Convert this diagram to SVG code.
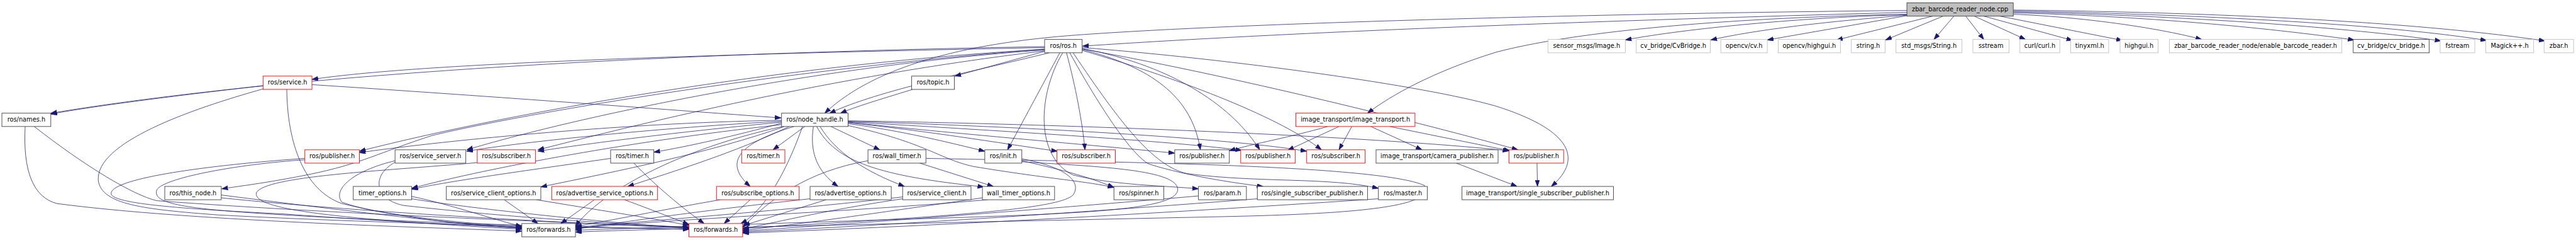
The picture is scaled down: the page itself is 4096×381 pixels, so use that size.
<svg xmlns="http://www.w3.org/2000/svg" width="4096" height="381" viewBox="0 0 4096 381">
<defs>
<marker id="a" markerUnits="userSpaceOnUse" markerWidth="14" markerHeight="10" refX="13" refY="4.5" orient="auto"><path d="M0,0 L13,4.5 L0,9 Z" fill="#191970" stroke="#191970" stroke-width="1"/></marker>
<style>
.e{fill:none;stroke:#191970;stroke-width:1;marker-end:url(#a)}
.n rect{fill:#ffffff;stroke-width:1.2}
.blk rect{stroke:#404040}
.red rect{stroke:#ff0000}
.gry rect{stroke:#bfbfbf}
.root rect{fill:#bfbfbf;stroke:#404040}
.n text{font-family:"DejaVu Sans",sans-serif;font-size:13px;text-anchor:middle;fill:#000000}
</style>
</defs>
<rect x="0" y="0" width="4096" height="381" fill="#ffffff"/>
<g transform="scale(0.755)">
<g id="edges">
<path class="e" d="M4016,26 C3500,40 2800,62 2280,97"/>
<path class="e" d="M4016,22 C3400,28 2600,48 2250,75 C2000,95 1830,150 1737,238"/>
<path class="e" d="M4016,30 C3600,38 3300,70 3150,110 C3020,150 2930,200 2880,238"/>
<path class="e" d="M4016,31 C3800,36 3550,60 3423,84"/>
<path class="e" d="M4016,32 C3850,45 3700,62 3603,84"/>
<path class="e" d="M4016,33 L3722,84"/>
<path class="e" d="M4070,34 L3868,84"/>
<path class="e" d="M4092,34 L3971,84"/>
<path class="e" d="M4115,34 L4073,83"/>
<path class="e" d="M4140,34 L4178,83"/>
<path class="e" d="M4158,34 L4266,83"/>
<path class="e" d="M4178,34 L4365,85"/>
<path class="e" d="M4212,34 L4470,85"/>
<path class="e" d="M4240,30 C4400,36 4560,62 4637,83"/>
<path class="e" d="M4240,27 C4550,35 4800,62 4958,84"/>
<path class="e" d="M4240,25 C4600,33 4950,58 5141,86"/>
<path class="e" d="M4240,23 C4700,32 5050,55 5237,85"/>
<path class="e" d="M4240,21 C4800,28 5150,55 5360,86"/>
<path class="e" d="M2200,98 C1600,108 700,140 107,238"/>
<path class="e" d="M2200,100 C1600,112 900,130 657,167"/>
<path class="e" d="M2210,111 C2050,150 1850,190 1747,238"/>
<path class="e" d="M2200,108 L2011,160"/>
<path class="e" d="M2232,111 L2122,315"/>
<path class="e" d="M2246,111 C2265,180 2280,260 2285,315"/>
<path class="e" d="M2279,104 C2420,140 2510,200 2528,315"/>
<path class="e" d="M2279,102 C2480,140 2600,230 2653,315"/>
<path class="e" d="M2253,111 C2330,250 2390,330 2420,345 C2500,370 2600,385 2660,392"/>
<path class="e" d="M2260,111 C2360,260 2430,350 2500,365 C2650,385 2800,372 2903,396"/>
<path class="e" d="M2238,111 C2185,200 2180,330 2260,368 C2350,390 2450,390 2524,397"/>
<path class="e" d="M2279,106 C2500,170 2700,250 2783,315"/>
<path class="e" d="M2279,100 C2600,125 3000,180 3150,223 C3300,270 3340,330 3267,392"/>
<path class="e" d="M2279,103 C2600,160 3000,260 3197,315"/>
<path class="e" d="M2200,104 C1700,130 1100,230 757,318"/>
<path class="e" d="M2200,105 C1700,140 1200,250 983,315"/>
<path class="e" d="M2200,107 C1750,160 1350,260 1133,315"/>
<path class="e" d="M2200,103 C1600,150 1050,250 910,285 C800,320 760,345 650,367 C560,385 500,392 467,397"/>
<path class="e" d="M554,180 C400,198 200,222 107,240"/>
<path class="e" d="M657,178 C1000,200 1400,230 1645,248"/>
<path class="e" d="M604,188 C605,300 640,400 720,428 C850,460 1000,475 1099,480"/>
<path class="e" d="M554,187 C400,230 200,300 207,380 C215,430 300,440 460,452 C800,470 1200,478 1451,482"/>
<path class="e" d="M1922,188 C1850,210 1800,225 1770,238"/>
<path class="e" d="M1695,266 L1628,315"/>
<path class="e" d="M1672,266 C1560,300 1520,340 1580,392"/>
<path class="e" d="M1713,266 C1705,320 1720,360 1765,392"/>
<path class="e" d="M1750,266 L1853,315"/>
<path class="e" d="M1786,260 C1900,275 2000,300 2074,318"/>
<path class="e" d="M1786,258 C1950,275 2100,300 2227,318"/>
<path class="e" d="M1786,257 C2000,280 2300,305 2474,322"/>
<path class="e" d="M1786,256 C2100,275 2450,295 2615,316"/>
<path class="e" d="M1786,255 C2200,268 2600,292 2752,318"/>
<path class="e" d="M1786,254 C2300,262 2900,288 3178,317"/>
<path class="e" d="M1727,266 C1760,320 1820,360 1905,392"/>
<path class="e" d="M1720,266 C1760,340 1850,370 2072,393"/>
<path class="e" d="M1786,264 C1950,300 1980,335 2050,350 C2200,375 2280,380 2346,394"/>
<path class="e" d="M1646,262 C1300,300 1000,360 867,396"/>
<path class="e" d="M1646,259 C1550,285 1450,308 1377,320"/>
<path class="e" d="M1652,266 C1500,320 1300,360 1139,393"/>
<path class="e" d="M1662,266 C1550,320 1420,360 1322,392"/>
<path class="e" d="M1646,255 C1400,268 1100,298 983,318"/>
<path class="e" d="M1646,257 C1450,275 1250,300 1133,318"/>
<path class="e" d="M1646,253 C1300,258 900,300 757,321"/>
<path class="e" d="M1648,266 C1400,320 1250,420 1212,476"/>
<path class="e" d="M1690,266 C1650,380 1600,450 1560,470"/>
<path class="e" d="M2796,266 C2720,288 2640,302 2589,317"/>
<path class="e" d="M2820,266 L2712,316"/>
<path class="e" d="M2847,266 L2820,315"/>
<path class="e" d="M2887,266 L2995,315"/>
<path class="e" d="M2927,266 C3020,285 3120,305 3180,317"/>
<path class="e" d="M3067,343 L3195,392"/>
<path class="e" d="M3237,343 L3238,392"/>
<path class="e" d="M1286,333 C1100,360 950,380 867,398"/>
<path class="e" d="M1335,343 C1380,390 1440,440 1483,470"/>
<path class="e" d="M1937,343 L2092,392"/>
<path class="e" d="M1828,338 C1700,360 1620,420 1564,478"/>
<path class="e" d="M1950,333 C2300,340 2900,345 3000,390 C3030,440 2800,450 2600,455 C2000,468 1400,480 1212,488"/>
<path class="e" d="M2152,338 C2250,360 2300,375 2346,394"/>
<path class="e" d="M2152,340 C2300,350 2470,355 2480,395 C2490,440 2300,448 2000,458 C1600,470 1350,480 1212,484"/>
<path class="e" d="M2152,334 C2240,350 2280,380 2260,410 C2230,440 2000,455 1564,480"/>
<path class="e" d="M1901,418 C1750,440 1620,470 1564,482"/>
<path class="e" d="M1901,414 C1700,438 1400,462 1212,478"/>
<path class="e" d="M1062,420 L1133,470"/>
<path class="e" d="M1130,420 C1250,440 1380,460 1451,474"/>
<path class="e" d="M1252,420 L1181,470"/>
<path class="e" d="M1315,420 C1370,440 1420,460 1451,472"/>
<path class="e" d="M1580,420 L1525,470"/>
<path class="e" d="M1517,420 C1400,440 1280,465 1212,476"/>
<path class="e" d="M1740,420 L1566,474"/>
<path class="e" d="M1706,418 C1500,440 1300,468 1212,482"/>
<path class="e" d="M2069,416 C1900,440 1700,470 1564,484"/>
<path class="e" d="M2080,420 C1800,445 1500,455 1212,480"/>
<path class="e" d="M2524,412 C2200,440 1800,470 1564,486"/>
<path class="e" d="M2648,418 C2300,445 1900,472 1564,488"/>
<path class="e" d="M2903,418 C2500,445 2000,474 1564,490"/>
<path class="e" d="M466,410 C700,440 950,470 1099,480"/>
<path class="e" d="M466,416 C800,450 1200,468 1451,480"/>
<path class="e" d="M53,266 C48,360 70,415 120,428 C400,465 900,478 1099,486"/>
<path class="e" d="M72,266 C180,350 280,410 330,422 C700,450 1200,468 1451,478"/>
<path class="e" d="M642,333 C400,350 220,380 235,410 C250,430 400,440 600,450 C800,465 1000,475 1099,478"/>
<path class="e" d="M642,336 C500,345 340,375 330,400 C320,430 400,440 600,452 C900,470 1250,478 1451,482"/>
<path class="e" d="M832,338 C740,360 700,400 720,425 C800,455 1000,470 1099,478"/>
<path class="e" d="M832,341 C780,370 790,420 850,432 C1100,460 1300,470 1451,478"/>
<path class="e" d="M1005,342 C800,360 560,370 540,405 C530,440 700,460 1099,482"/>
<path class="e" d="M867,413 C950,430 1050,465 1099,476"/>
<path class="e" d="M867,418 C1000,440 1300,470 1451,480"/>
</g>
<g id="root" class="n root"><rect x="4016" y="6" width="224" height="28"/><text x="4128" y="24">zbar_barcode_reader_node.cpp</text></g>
<g id="n_ros" class="n blk"><rect x="2200" y="83" width="79" height="28"/><text x="2239.5" y="101">ros/ros.h</text></g>
<g id="n_image" class="n gry"><rect x="3260" y="83" width="163" height="28"/><text x="3341.5" y="101">sensor_msgs/Image.h</text></g>
<g id="n_cvbridge1" class="n gry"><rect x="3446" y="83" width="156" height="28"/><text x="3524" y="101">cv_bridge/CvBridge.h</text></g>
<g id="n_cv" class="n gry"><rect x="3624" y="83" width="98" height="28"/><text x="3673" y="101">opencv/cv.h</text></g>
<g id="n_highgui1" class="n gry"><rect x="3745" y="83" width="131" height="28"/><text x="3810.5" y="101">opencv/highgui.h</text></g>
<g id="n_string" class="n gry"><rect x="3899" y="83" width="71" height="28"/><text x="3934.5" y="101">string.h</text></g>
<g id="n_stdstring" class="n gry"><rect x="3993" y="83" width="139" height="28"/><text x="4062.5" y="101">std_msgs/String.h</text></g>
<g id="n_sstream" class="n gry"><rect x="4155" y="83" width="76" height="28"/><text x="4193" y="101">sstream</text></g>
<g id="n_curl" class="n gry"><rect x="4254" y="83" width="84" height="28"/><text x="4296" y="101">curl/curl.h</text></g>
<g id="n_tinyxml" class="n gry"><rect x="4361" y="83" width="80" height="28"/><text x="4401" y="101">tinyxml.h</text></g>
<g id="n_highgui2" class="n gry"><rect x="4465" y="83" width="80" height="28"/><text x="4505" y="101">highgui.h</text></g>
<g id="n_enable" class="n gry"><rect x="4569" y="83" width="363" height="28"/><text x="4750.5" y="101">zbar_barcode_reader_node/enable_barcode_reader.h</text></g>
<g id="n_cvbridge2" class="n blk"><rect x="4956" y="83" width="160" height="28"/><text x="5036" y="101">cv_bridge/cv_bridge.h</text></g>
<g id="n_fstream" class="n gry"><rect x="5139" y="83" width="73" height="28"/><text x="5175.5" y="101">fstream</text></g>
<g id="n_magick" class="n gry"><rect x="5235" y="83" width="101" height="28"/><text x="5285.5" y="101">Magick++.h</text></g>
<g id="n_zbar" class="n gry"><rect x="5358" y="83" width="62" height="28"/><text x="5389" y="101">zbar.h</text></g>
<g id="n_service" class="n red"><rect x="554" y="160" width="103" height="28"/><text x="605.5" y="178">ros/service.h</text></g>
<g id="n_topic" class="n blk"><rect x="1920" y="160" width="90" height="28"/><text x="1965" y="178">ros/topic.h</text></g>
<g id="n_names" class="n blk"><rect x="4" y="238" width="103" height="28"/><text x="55.5" y="256">ros/names.h</text></g>
<g id="n_nodehandle" class="n blk"><rect x="1646" y="238" width="140" height="28"/><text x="1716" y="256">ros/node_handle.h</text></g>
<g id="n_imagetransport" class="n red"><rect x="2729" y="238" width="251" height="28"/><text x="2854.5" y="256">image_transport/image_transport.h</text></g>
<g id="n_pub1" class="n red"><rect x="642" y="315" width="115" height="28"/><text x="699.5" y="333">ros/publisher.h</text></g>
<g id="n_serviceserver" class="n blk"><rect x="832" y="315" width="149" height="28"/><text x="906.5" y="333">ros/service_server.h</text></g>
<g id="n_sub1" class="n red"><rect x="1005" y="315" width="123" height="28"/><text x="1066.5" y="333">ros/subscriber.h</text></g>
<g id="n_timer1" class="n blk"><rect x="1286" y="315" width="91" height="28"/><text x="1331.5" y="333">ros/timer.h</text></g>
<g id="n_timer2" class="n red"><rect x="1562" y="315" width="91" height="28"/><text x="1607.5" y="333">ros/timer.h</text></g>
<g id="n_walltimer" class="n blk"><rect x="1828" y="315" width="122" height="28"/><text x="1889" y="333">ros/wall_timer.h</text></g>
<g id="n_init" class="n blk"><rect x="2074" y="315" width="78" height="28"/><text x="2113" y="333">ros/init.h</text></g>
<g id="n_sub2" class="n red"><rect x="2226" y="315" width="123" height="28"/><text x="2287.5" y="333">ros/subscriber.h</text></g>
<g id="n_pub2" class="n blk"><rect x="2474" y="315" width="115" height="28"/><text x="2531.5" y="333">ros/publisher.h</text></g>
<g id="n_pub3" class="n red"><rect x="2613" y="315" width="115" height="28"/><text x="2670.5" y="333">ros/publisher.h</text></g>
<g id="n_sub3" class="n red"><rect x="2752" y="315" width="123" height="28"/><text x="2813.5" y="333">ros/subscriber.h</text></g>
<g id="n_camerapub" class="n blk"><rect x="2898" y="315" width="257" height="28"/><text x="3026.5" y="333">image_transport/camera_publisher.h</text></g>
<g id="n_pub4" class="n red"><rect x="3178" y="315" width="115" height="28"/><text x="3235.5" y="333">ros/publisher.h</text></g>
<g id="n_thisnode" class="n blk"><rect x="347" y="392" width="119" height="28"/><text x="406.5" y="410">ros/this_node.h</text></g>
<g id="n_timeropts" class="n blk"><rect x="744" y="392" width="123" height="28"/><text x="805.5" y="410">timer_options.h</text></g>
<g id="n_sco" class="n blk"><rect x="940" y="392" width="199" height="28"/><text x="1039.5" y="410">ros/service_client_options.h</text></g>
<g id="n_aso" class="n red"><rect x="1162" y="392" width="223" height="28"/><text x="1273.5" y="410">ros/advertise_service_options.h</text></g>
<g id="n_so" class="n red"><rect x="1509" y="392" width="174" height="28"/><text x="1596" y="410">ros/subscribe_options.h</text></g>
<g id="n_ao" class="n blk"><rect x="1706" y="392" width="171" height="28"/><text x="1791.5" y="410">ros/advertise_options.h</text></g>
<g id="n_serviceclient" class="n blk"><rect x="1901" y="392" width="144" height="28"/><text x="1973" y="410">ros/service_client.h</text></g>
<g id="n_wto" class="n blk"><rect x="2069" y="392" width="152" height="28"/><text x="2145" y="410">wall_timer_options.h</text></g>
<g id="n_spinner" class="n blk"><rect x="2346" y="392" width="105" height="28"/><text x="2398.5" y="410">ros/spinner.h</text></g>
<g id="n_param" class="n blk"><rect x="2524" y="392" width="101" height="28"/><text x="2574.5" y="410">ros/param.h</text></g>
<g id="n_ssp" class="n blk"><rect x="2648" y="392" width="232" height="28"/><text x="2764" y="410">ros/single_subscriber_publisher.h</text></g>
<g id="n_master" class="n blk"><rect x="2903" y="392" width="103" height="28"/><text x="2954.5" y="410">ros/master.h</text></g>
<g id="n_issp" class="n blk"><rect x="3079" y="392" width="319" height="28"/><text x="3238.5" y="410">image_transport/single_subscriber_publisher.h</text></g>
<g id="n_fwd1" class="n blk"><rect x="1099" y="470" width="113" height="28"/><text x="1155.5" y="488">ros/forwards.h</text></g>
<g id="n_fwd2" class="n red"><rect x="1451" y="470" width="113" height="28"/><text x="1507.5" y="488">ros/forwards.h</text></g>
</g>
</svg>
